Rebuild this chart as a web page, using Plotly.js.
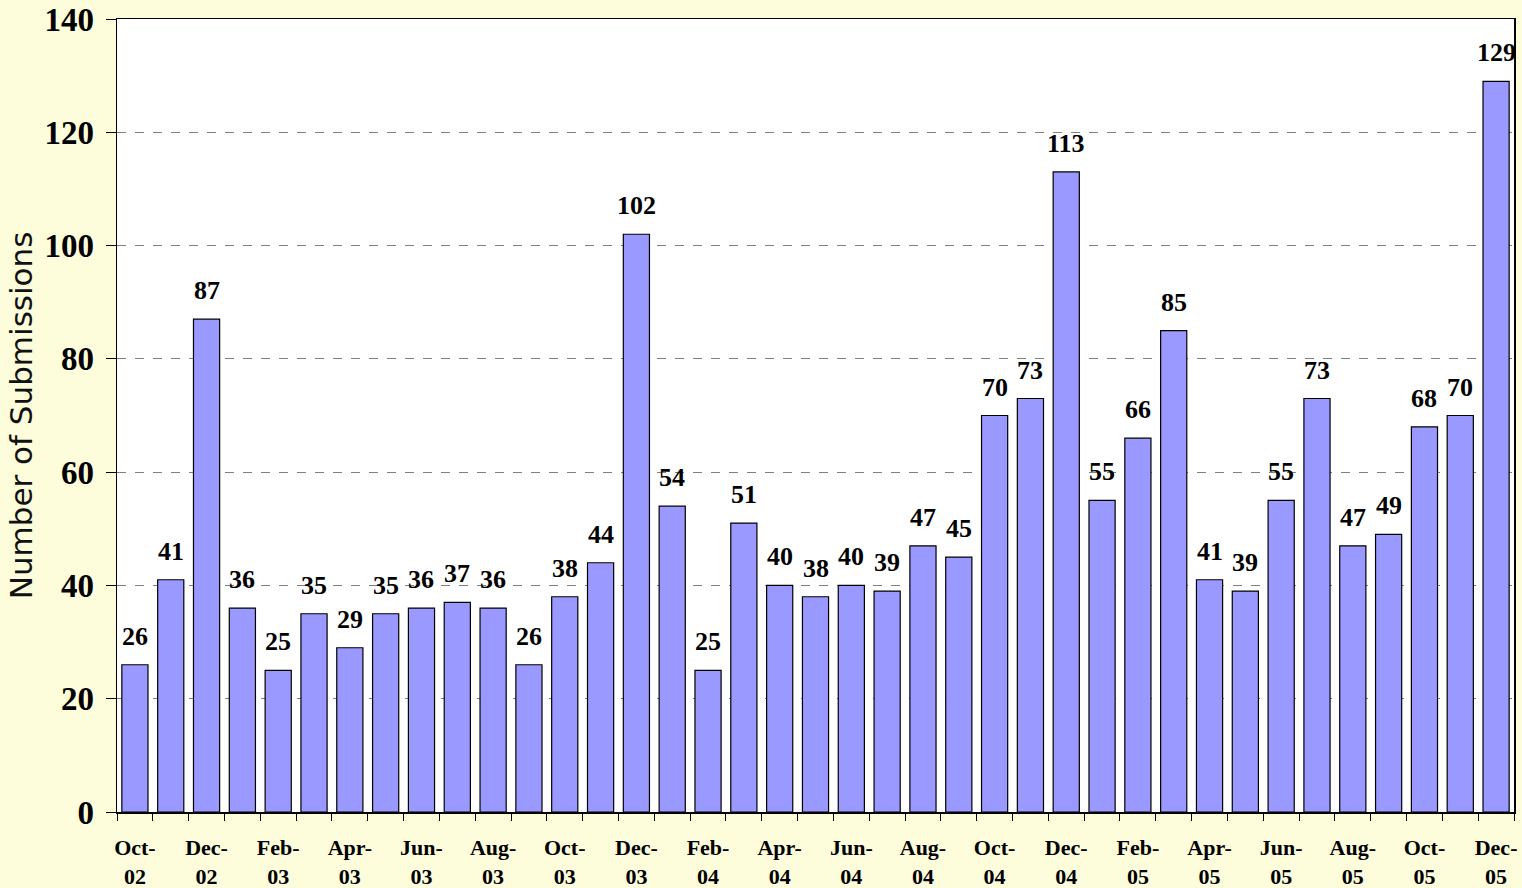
<!DOCTYPE html>
<html>
<head>
<meta charset="utf-8">
<script src="https://cdn.plot.ly/plotly-3.0.1.min.js"></script>
<style>html,body{margin:0;padding:0;background:#FDFDDC;}#chart{width:1522px;height:888px;}</style>
</head>
<body>
<div id="chart"></div>
<script>
const months = ["Oct-02","Nov-02","Dec-02","Jan-03","Feb-03","Mar-03","Apr-03","May-03","Jun-03","Jul-03","Aug-03","Sep-03","Oct-03","Nov-03","Dec-03","Jan-04","Feb-04","Mar-04","Apr-04","May-04","Jun-04","Jul-04","Aug-04","Sep-04","Oct-04","Nov-04","Dec-04","Jan-05","Feb-05","Mar-05","Apr-05","May-05","Jun-05","Jul-05","Aug-05","Sep-05","Oct-05","Nov-05","Dec-05"];
const submissions = [26,41,87,36,25,35,29,35,36,37,36,26,38,44,102,54,25,51,40,38,40,39,47,45,70,73,113,55,66,85,41,39,55,73,47,49,68,70,129];
const yTicks = [0,20,40,60,80,100,120,140];
const yTitle = "Number of Submissions";

const idx = months.map((m,i)=>i);
const labelIdx = idx.filter(i => i % 2 === 0);
const labelText = labelIdx.map(i => months[i].replace("-", "-<br>"));

const trace = {
  type: 'bar',
  x: idx,
  y: submissions,
  marker: {color: '#9999FF', line: {color: '#000000', width: 1.2}},
  width: 0.73,
  hoverinfo: 'y'
};

const annotations = idx.map(i => ({
  x: i, y: submissions[i], xref: 'x', yref: 'y',
  text: String(submissions[i]), showarrow: false,
  yanchor: 'bottom', xanchor: 'center', yshift: 12,
  font: {family: 'Liberation Serif, Times New Roman, serif', size: 26, weight: 'bold', color: '#000'}
}));

const layout = {
  width: 1522, height: 888,
  paper_bgcolor: '#FDFDDC',
  plot_bgcolor: '#FFFFFF',
  margin: {l: 117, r: 8, t: 19, b: 76},
  showlegend: false,
  xaxis: {
    type: 'linear',
    range: [-0.5, 38.5],
    tickvals: labelIdx,
    ticktext: labelText,
    ticks: '',
    showgrid: false,
    zeroline: false,
    showline: true, linecolor: '#000', linewidth: 1.5, mirror: true,
    tickfont: {family: 'Liberation Serif, Times New Roman, serif', size: 22, weight: 'bold', color: '#000'},
    minor: {ticks: 'outside', tick0: -0.5, dtick: 1, ticklen: 7, tickcolor: '#000', tickwidth: 1, showgrid: false},
    ticklabelstandoff: 15
  },
  yaxis: {
    range: [0, 140],
    tickvals: yTicks,
    ticks: 'outside', ticklen: 10, tickcolor: '#000', tickwidth: 1,
    showgrid: true, gridcolor: '#808080', gridwidth: 1, griddash: 'dash',
    zeroline: false,
    showline: true, linecolor: '#000', linewidth: 1.5, mirror: true,
    tickfont: {family: 'Liberation Serif, Times New Roman, serif', size: 33, weight: 'bold', color: '#000'},
    ticklabelstandoff: 5,
    title: {text: yTitle, font: {family: 'DejaVu Sans, sans-serif', size: 31, color: '#111'}, standoff: 2}
  },
  annotations: annotations
};

Plotly.newPlot('chart', [trace], layout, {displayModeBar: false, staticPlot: true});
</script>
</body>
</html>
